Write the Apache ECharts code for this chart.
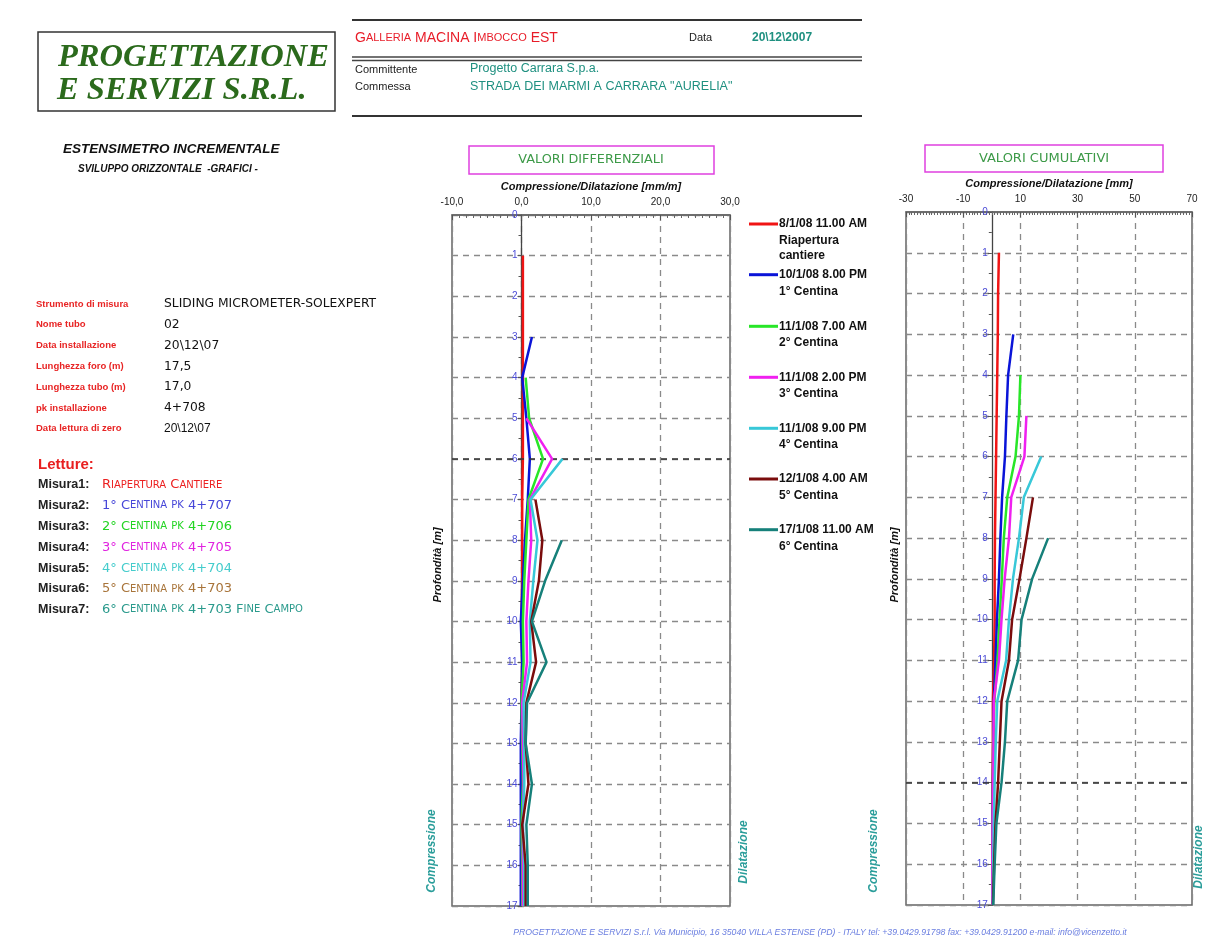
<!DOCTYPE html>
<html>
<head>
<meta charset="utf-8">
<script src="https://cdn.jsdelivr.net/npm/echarts@6/dist/echarts.min.js"></script>
<style>
  html, body { margin: 0; padding: 0; background: #fff; }
  #chart { width: 1214px; height: 945px; }
</style>
</head>
<body>
<div id="chart"></div>
<script>
// depth of each reading (m)
const depths = [0, 1, 2, 3, 4, 5, 6, 7, 8, 9, 10, 11, 12, 13, 14, 15, 16, 17];

const seriesNames = [
  '8/1/08 11.00 AM', '10/1/08 8.00 PM', '11/1/08 7.00 AM', '11/1/08 2.00 PM',
  '11/1/08 9.00 PM', '12/1/08 4.00 AM', '17/1/08 11.00 AM'
];
const legendSub = [
  ['Riapertura', 'cantiere'], ['1° Centina'], ['2° Centina'], ['3° Centina'],
  ['4° Centina'], ['5° Centina'], ['6° Centina']
];
const colors = ['#f01414', '#0a14d8', '#28e628', '#f020f0', '#38c8d8', '#7a0c0c', '#16807a'];

// valori differenziali [mm/m]
const diffM1 = [null, 0.2, 0.2, 0.2, 0.2, 0.2, 0.2, 0.1, 0.1, 0.1, 0.0, 0.1, 0.0, 0.0, 0.0, 0.0, 0.0, 0.0];
const diffM2 = [null, null, null, 1.5, 0.1, 0.7, 1.2, 0.9, 0.5, 0.2, -0.1, 0.1, 0.0, -0.1, -0.1, -0.1, -0.1, -0.1];
const diffM3 = [null, null, null, null, 0.6, 1.1, 3.1, 1.0, 0.7, 0.4, 0.2, 0.3, 0.0, 0.1, 0.2, 0.0, 0.1, 0.1];
const diffM4 = [null, null, null, null, null, 0.7, 4.4, 1.2, 1.4, 1.0, 0.7, 0.8, 0.1, 0.2, 0.3, 0.2, 0.2, 0.2];
const diffM5 = [null, null, null, null, null, null, 5.9, 1.3, 2.3, 1.7, 1.2, 1.3, 0.3, 0.4, 0.4, 0.2, 0.4, 0.4];
const diffM6 = [null, null, null, null, null, null, null, 2.0, 3.0, 2.5, 1.4, 2.1, 0.7, 0.6, 1.0, 0.1, 0.6, 0.6];
const diffM7 = [null, null, null, null, null, null, null, null, 5.8, 3.4, 1.5, 3.6, 0.8, 0.6, 1.5, 0.7, 0.9, 0.9];

// valori cumulativi [mm]
const cumM1 = [null, 2.5, 2.2, 2.1, 1.9, 1.7, 1.5, 1.3, 1.1, 1.0, 1.0, 0.8, 0.4, 0.4, 0.3, 0.3, 0.3, 0.3];
const cumM2 = [null, null, null, 7.5, 5.7, 5.1, 4.6, 3.6, 3.0, 2.5, 1.8, 1.3, 0.7, 0.5, 0.4, 0.3, 0.3, 0.3];
const cumM3 = [null, null, null, null, 10.0, 9.5, 8.3, 5.4, 4.2, 3.5, 2.7, 2.0, 0.9, 0.6, 0.5, 0.4, 0.3, 0.3];
const cumM4 = [null, null, null, null, null, 12.1, 11.4, 6.8, 6.0, 4.5, 3.4, 2.5, 0.7, 0.6, 0.5, 0.3, 0.2, 0.2];
const cumM5 = [null, null, null, null, null, null, 17.3, 11.2, 9.5, 7.4, 6.0, 5.0, 1.9, 1.4, 1.0, 0.7, 0.5, 0.4];
const cumM6 = [null, null, null, null, null, null, null, 14.4, 12.1, 9.7, 7.1, 6.0, 3.4, 2.8, 2.2, 1.3, 0.8, 0.4];
const cumM7 = [null, null, null, null, null, null, null, null, 19.7, 14.1, 10.4, 9.2, 5.4, 4.6, 3.4, 1.6, 1.0, 0.5];

const diffData = [diffM1, diffM2, diffM3, diffM4, diffM5, diffM6, diffM7];
const cumData = [cumM1, cumM2, cumM3, cumM4, cumM5, cumM6, cumM7];

// scheda strumento
const infoLabels = ['Strumento di misura', 'Nome tubo', 'Data installazione', 'Lunghezza foro (m)',
  'Lunghezza tubo (m)', 'pk installazione', 'Data lettura di zero'];
const infoValues = ['SLIDING MICROMETER-SOLEXPERT', '02', '20\\12\\07', '17,5', '17,0', '4+708', '20\\12\\07'];
const letture = ['Riapertura Cantiere', '1° Centina pk 4+707', '2° Centina pk 4+706', '3° Centina pk 4+705',
  '4° Centina pk 4+704', '5° Centina pk 4+703', '6° Centina pk 4+703 Fine Campo'];
const lettureColors = ['#ec2020', '#4646d8', '#22d422', '#e024e0', '#44cccc', '#a8743a', '#2a9a8c'];

const SANS = 'Liberation Sans, Arial, sans-serif';
const GOTHIC = 'DejaVu Sans, sans-serif';
const TEAL = '#1f9080';

function toPoints(arr) {
  return arr.map((v, i) => (v == null ? null : [v, depths[i]])).filter(Boolean);
}

// small caps: lowercase letters become smaller capitals
function smallCaps(str) {
  let out = '', cur = '', type = null;
  for (const ch of str) {
    const t = ch >= 'a' && ch <= 'z' ? 's' : 'b';
    if (t !== type && cur) { out += '{' + type + '|' + cur + '}'; cur = ''; }
    type = t;
    cur += t === 's' ? ch.toUpperCase() : ch;
  }
  if (cur) out += '{' + type + '|' + cur + '}';
  return out;
}

function text(x, y, str, font, fill, align) {
  return {
    type: 'text', x: x, y: y, silent: true,
    style: { text: str, font: font, fill: fill, align: align || 'left', verticalAlign: 'middle' }
  };
}

const elements = [];
// logo
elements.push({ type: 'rect', shape: { x: 38, y: 32, width: 297, height: 79 },
  style: { fill: '#fff', stroke: '#333', lineWidth: 1.5 }, silent: true });
elements.push(text(58, 58, 'PROGETTAZIONE', 'italic bold 32.5px Liberation Serif', '#2b6a1c'));
elements.push(text(57, 91, 'E SERVIZI S.R.L.', 'italic bold 32.5px Liberation Serif', '#2b6a1c'));
// header
elements.push({ type: 'line', shape: { x1: 352, y1: 20, x2: 862, y2: 20 }, style: { stroke: '#333', lineWidth: 2 }, silent: true });
elements.push({ type: 'line', shape: { x1: 352, y1: 57, x2: 862, y2: 57 }, style: { stroke: '#444', lineWidth: 1.5 }, silent: true });
elements.push({ type: 'line', shape: { x1: 352, y1: 60.5, x2: 862, y2: 60.5 }, style: { stroke: '#444', lineWidth: 1.5 }, silent: true });
elements.push({ type: 'line', shape: { x1: 352, y1: 116, x2: 862, y2: 116 }, style: { stroke: '#333', lineWidth: 2 }, silent: true });
elements.push({ type: 'text', x: 355, y: 38, silent: true, style: {
  text: smallCaps('Galleria MACINA Imbocco EST'), fill: '#e81c28', verticalAlign: 'middle',
  rich: { b: { fontSize: 14, fontFamily: SANS, fill: '#e81c28' }, s: { fontSize: 11, fontFamily: SANS, fill: '#e81c28' } } } });
elements.push(text(689, 38, 'Data', '11px ' + SANS, '#222'));
elements.push(text(752, 38, '20\\12\\2007', 'bold 12px ' + SANS, TEAL));
elements.push(text(355, 70, 'Committente', '11px ' + SANS, '#222'));
elements.push(text(355, 87, 'Commessa', '11px ' + SANS, '#222'));
elements.push(text(470, 69, 'Progetto Carrara S.p.a.', '12.5px ' + SANS, TEAL));
elements.push(text(470, 87, 'STRADA DEI MARMI A CARRARA "AURELIA"', '12.5px ' + SANS, TEAL));
// left panel
elements.push(text(63, 149, 'ESTENSIMETRO INCREMENTALE', 'italic bold 13.5px ' + SANS, '#111'));
elements.push(text(78, 169, 'SVILUPPO ORIZZONTALE  -GRAFICI -', 'italic bold 10px ' + SANS, '#111'));
infoLabels.forEach((l, i) => {
  const y = 304 + i * 20.8;
  elements.push(text(36, y, l, 'bold 9.5px ' + SANS, '#e82424'));
  elements.push(text(164, y, infoValues[i], (i === 6 ? '12px ' + SANS : '12.3px ' + GOTHIC), '#111'));
});
elements.push(text(38, 465, 'Letture:', 'bold 15px ' + SANS, '#e82020'));
letture.forEach((l, i) => {
  const y = 485 + i * 20.8;
  elements.push(text(38, y, 'Misura' + (i + 1) + ':', 'bold 12.5px ' + SANS, '#222'));
  const c = lettureColors[i];
  elements.push({ type: 'text', x: 102, y: y, silent: true, style: {
    text: smallCaps(l), fill: c, verticalAlign: 'middle',
    rich: { b: { fontSize: 13, fontFamily: GOTHIC, fill: c }, s: { fontSize: 10, fontFamily: GOTHIC, fill: c } } } });
});
// chart title boxes
elements.push({ type: 'rect', shape: { x: 469, y: 146, width: 245, height: 28 },
  style: { fill: '#fff', stroke: '#e040e0', lineWidth: 1.5 }, silent: true });
elements.push(text(591, 160, 'VALORI DIFFERENZIALI', '12.8px ' + GOTHIC, '#3d9a48', 'center'));
elements.push({ type: 'rect', shape: { x: 925, y: 145, width: 238, height: 27 },
  style: { fill: '#fff', stroke: '#e040e0', lineWidth: 1.5 }, silent: true });
elements.push(text(1044, 159, 'VALORI CUMULATIVI', '13px ' + GOTHIC, '#3d9a48', 'center'));
// rotated side labels
function rotated(x, y, str, font, fill) {
  return { type: 'text', x: x, y: y, rotation: Math.PI / 2, silent: true,
    style: { text: str, font: font, fill: fill, align: 'center', verticalAlign: 'middle' } };
}
elements.push(rotated(438, 565, 'Profondità [m]', 'italic bold 11px ' + SANS, '#111'));
elements.push(rotated(895, 565, 'Profondità [m]', 'italic bold 11px ' + SANS, '#111'));
elements.push(rotated(432, 851, 'Compressione', 'italic bold 12px ' + SANS, '#2a9d9a'));
elements.push(rotated(744, 852, 'Dilatazione', 'italic bold 12px ' + SANS, '#2a9d9a'));
elements.push(rotated(874, 851, 'Compressione', 'italic bold 12px ' + SANS, '#2a9d9a'));
elements.push(rotated(1199, 857, 'Dilatazione', 'italic bold 12px ' + SANS, '#2a9d9a'));
// legend second lines
const legendY = [225, 275.7, 327.3, 378.3, 429.3, 480, 530.7];
legendSub.forEach((lines, i) => {
  lines.forEach((s, j) => {
    elements.push(text(779, legendY[i] + 15.5 * (j + 1), s, 'bold 12px ' + SANS, '#111'));
  });
});
// footer
elements.push(text(820, 933,
  'PROGETTAZIONE E SERVIZI S.r.l. Via Municipio, 16 35040 VILLA ESTENSE (PD) - ITALY tel: +39.0429.91798 fax: +39.0429.91200 e-mail: info@vicenzetto.it',
  'italic 8.7px ' + SANS, '#6a7ee0', 'center'));

const dashed = { color: '#8a8a8a', type: [6, 5], width: 1.3 };

function xAxisFor(gridIndex, min, max, interval, name, formatter, minorSplit, nameGap) {
  return {
    gridIndex: gridIndex, type: 'value', position: 'top', min: min, max: max, interval: interval,
    name: name, nameLocation: 'middle', nameGap: nameGap,
    nameTextStyle: { fontFamily: SANS, fontStyle: 'italic', fontWeight: 'bold', fontSize: 11, color: '#111' },
    axisLine: { onZero: false, lineStyle: { color: '#666', width: 1.5 } },
    axisTick: { inside: true, length: 5, lineStyle: { color: '#555' } },
    minorTick: { show: true, splitNumber: minorSplit, length: 3, lineStyle: { color: '#666' } },
    axisLabel: { formatter: formatter, margin: 8, fontSize: 10, color: '#222', fontFamily: SANS },
    splitLine: { show: true, lineStyle: dashed }
  };
}

// the depth axis sits on the zero of the horizontal axis: offset moves it there
function yAxisFor(gridIndex, offset) {
  return {
    gridIndex: gridIndex, type: 'value', inverse: true, min: 0, max: 17, interval: 1,
    position: 'left', offset: offset,
    axisLine: { onZero: false, lineStyle: { color: '#444', width: 1.3 } },
    axisTick: { length: 4, lineStyle: { color: '#555' } },
    minorTick: { show: true, splitNumber: 2, length: 3, lineStyle: { color: '#555' } },
    axisLabel: { color: '#4b4bd6', fontSize: 10, margin: 4, fontFamily: SANS },
    splitLine: { show: true, lineStyle: dashed }
  };
}

const series = [];
diffData.forEach((arr, i) => {
  const s = { name: seriesNames[i], type: 'line', xAxisIndex: 0, yAxisIndex: 0, data: toPoints(arr),
    showSymbol: false, color: colors[i], lineStyle: { width: 2.5 }, z: 3 + i };
  if (i === 0) s.markLine = { silent: true, symbol: 'none', label: { show: false },
    lineStyle: { color: '#333', type: [6, 5], width: 1.6 }, data: [{ yAxis: 6 }] };
  series.push(s);
});
cumData.forEach((arr, i) => {
  const s = { name: seriesNames[i], type: 'line', xAxisIndex: 1, yAxisIndex: 1, data: toPoints(arr),
    showSymbol: false, color: colors[i], lineStyle: { width: 2.5 }, z: 3 + i };
  if (i === 0) s.markLine = { silent: true, symbol: 'none', label: { show: false },
    lineStyle: { color: '#333', type: [6, 5], width: 1.6 }, data: [{ yAxis: 14 }] };
  series.push(s);
});

const option = {
  backgroundColor: '#fff',
  animation: false,
  textStyle: { fontFamily: SANS },
  grid: [
    { left: 452, top: 215, width: 278, height: 691, show: true, borderColor: '#666', borderWidth: 1.5 },
    { left: 906, top: 212, width: 286, height: 693, show: true, borderColor: '#666', borderWidth: 1.5 }
  ],
  xAxis: [
    xAxisFor(0, -10, 30, 10, 'Compressione/Dilatazione [mm/m]', (v) => v.toFixed(1).replace('.', ','), 10, 22),
    xAxisFor(1, -30, 70, 20, 'Compressione/Dilatazione [mm]', (v) => String(v), 20, 23)
  ],
  // offsets: 278/40 px per unit * 10 = 69.5; 286/100 * 30 = 85.8
  yAxis: [yAxisFor(0, -69.5), yAxisFor(1, -85.8)],
  legend: seriesNames.map((n, i) => ({
    data: [n], left: 749, top: legendY[i] - 7, padding: 0, orient: 'vertical',
    icon: 'rect', itemWidth: 29, itemHeight: 3, itemGap: 0,
    textStyle: { fontFamily: SANS, fontWeight: 'bold', fontSize: 12, color: '#111', padding: [0, 0, 0, -4] }
  })),
  graphic: { elements: elements },
  series: series
};

const chart = echarts.init(document.getElementById('chart'));
chart.setOption(option);
</script>
</body>
</html>
